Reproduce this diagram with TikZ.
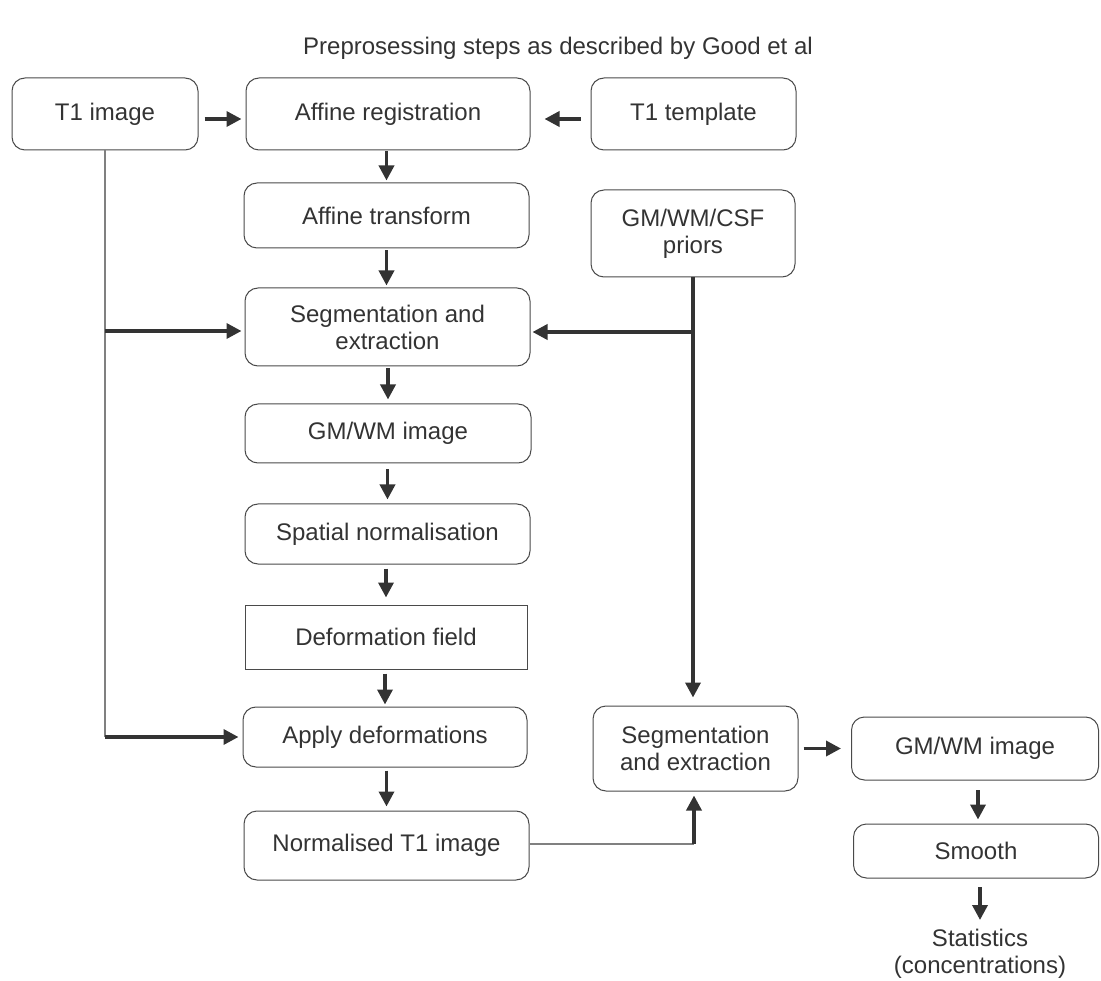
\documentclass[tikz,border=0pt]{standalone}
\usepackage{fontspec}
\setmainfont{Liberation Sans}
\usetikzlibrary{arrows.meta}
\definecolor{txt}{HTML}{333333}
\definecolor{edge}{HTML}{4a4a4a}
\definecolor{thin}{HTML}{808080}
\begin{document}
\begin{tikzpicture}[x=1pt,y=-1pt,
  every node/.style={text=txt,font=\fontsize{24}{27}\selectfont,align=center,inner sep=0pt},
  rbox/.style={draw=edge,line width=1pt,rounded corners=13pt},
  sbox/.style={draw=edge,line width=1pt},
  arr/.style={draw=txt,line width=3.5pt,-{Triangle[length=15pt,width=15pt]}},
  plain/.style={draw=txt,line width=3.5pt},
  thinline/.style={draw=thin,line width=1.8pt}]
\useasboundingbox (0,0) rectangle (1101,981);
\node (title) at (558,48) {Preprosessing steps as described by Good et al};
\node[rbox,minimum width=186pt,minimum height=72pt] (t1img) at (105,114) {T1 image};
\node[rbox,minimum width=284pt,minimum height=72pt] (affreg) at (388,114) {Affine registration};
\node[rbox,minimum width=205pt,minimum height=72pt] (t1tmp) at (693.5,114) {T1 template};
\node[rbox,minimum width=285pt,minimum height=65pt] (afftr) at (386.5,215.5) {Affine transform};
\node[rbox,minimum width=204pt,minimum height=87pt] (priors) at (693,233.5) {GM/WM/CSF\\priors};
\node[rbox,minimum width=285pt,minimum height=78pt] (seg1) at (387.5,327) {Segmentation and\\extraction};
\node[rbox,minimum width=286pt,minimum height=59pt] (gmwm1) at (388,433.5) {GM/WM image};
\node[rbox,minimum width=285pt,minimum height=60pt] (spnorm) at (387.5,534) {Spatial normalisation};
\node[sbox,minimum width=282pt,minimum height=64pt] (deffld) at (386,637) {Deformation field};
\node[rbox,minimum width=284pt,minimum height=60pt] (apply) at (385,737) {Apply deformations};
\node[rbox,minimum width=285pt,minimum height=69pt] (normt1) at (386.5,845.5) {Normalised T1 image};
\node[rbox,minimum width=205pt,minimum height=85pt] (seg2) at (695.5,748.5) {Segmentation\\and extraction};
\node[rbox,minimum width=247pt,minimum height=63pt] (gmwm2) at (975,748.5) {GM/WM image};
\node[rbox,minimum width=245pt,minimum height=54pt] (smooth) at (976,851) {Smooth};
\node (stats) at (980,954) {Statistics\\(concentrations)};
% junction coordinates
\coordinate (jl1) at (105,331);
\coordinate (jl2) at (105,737);
\coordinate (jr1) at (693,332);
\coordinate (jn) at (694,844);
\coordinate (s1) at (978,790);
\coordinate (s2) at (980,887);
\coordinate (e2) at (980,920);
% top row
\draw[arr,shorten <=6pt,shorten >=4pt] ([yshift=-5pt]t1img.east) -- ([yshift=-5pt]affreg.west);
\draw[arr,shorten <=10pt,shorten >=14pt] ([yshift=-5pt]t1tmp.west) -- ([yshift=-5pt]affreg.east);
% main column
\draw[arr,shorten <=1pt,shorten >=2pt] (affreg.south -| afftr.north) -- (afftr.north);
\draw[arr,shorten <=2pt,shorten >=2pt] (afftr.south) -- (afftr.south |- seg1.north);
\draw[arr,shorten <=2pt,shorten >=4pt] (seg1.south -| gmwm1.north) -- (gmwm1.north);
\draw[arr,shorten <=6pt,shorten >=4pt] (gmwm1.south -| spnorm.north) -- (spnorm.north);
\draw[arr,shorten <=4pt,shorten >=7pt] (spnorm.south -| deffld.north) -- (deffld.north);
\draw[arr,shorten <=4pt,shorten >=2pt] (deffld.south -| apply.north) -- (apply.north);
\draw[arr,shorten <=3pt,shorten >=4pt] (apply.south -| normt1.north) -- (normt1.north);
% left line from T1 image
\draw[thinline] (t1img.south) -- (jl2);
\draw[arr,shorten >=3pt] (jl1) -- (jl1 -| seg1.west);
\draw[arr,shorten >=4pt] (jl2) -- (apply.west);
% priors
\draw[plain] (priors.south) -- (jr1);
\draw[arr,shorten >=8pt] (jr1) -- (priors.south |- seg2.north);
\draw[arr,shorten >=2pt] (jr1) -- (jr1 -| seg1.east);
% normalised -> seg2
\draw[thinline] (normt1.east |- jn) -- (jn);
\draw[arr,shorten >=4pt] (jn) -- (jn |- seg2.south);
% right column
\draw[arr,shorten <=5pt,shorten >=10pt] (seg2.east) -- (gmwm2.west);
\draw[arr,shorten >=4pt] (s1) -- (s1 |- smooth.north);
\draw[arr] (s2) -- (e2);
\end{tikzpicture}
\end{document}
